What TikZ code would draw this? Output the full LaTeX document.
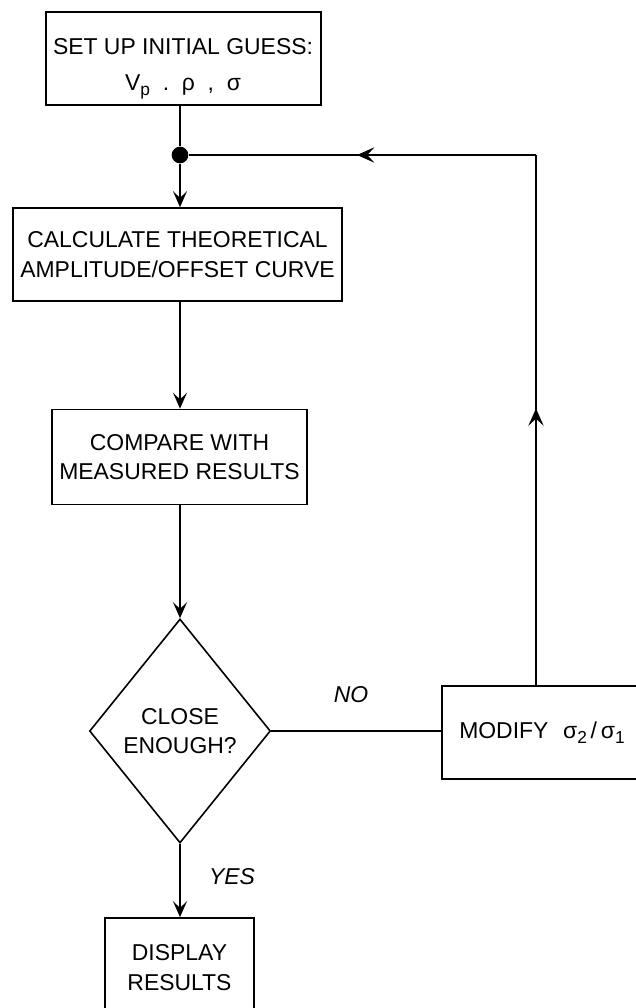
\documentclass[tikz,border=0pt]{standalone}
\usepackage{fontspec}
\setmainfont{Liberation Sans}
\usetikzlibrary{shapes.geometric,arrows.meta,decorations.markings}
\newcommand{\lowsub}[1]{\raisebox{-0.45ex}{\fontsize{13}{13}\selectfont #1}}
\begin{document}
\begin{tikzpicture}[x=0.75pt,y=-0.75pt, line width=1.2pt,
  >={Stealth[length=12pt,width=10.5pt,inset=5pt]},
  txt/.style={font=\fontsize{17.2}{22}\selectfont, inner sep=0pt, align=center},
  box/.style={draw, rectangle, inner sep=0pt, align=center, font=\fontsize{17.2}{22}\selectfont},
  lbl/.style={font=\fontsize{17.2}{22}\selectfont\itshape, inner sep=0pt},
  junction/.style={circle, fill=black, inner sep=0pt, minimum size=12.5pt},
  midarrow/.style={postaction={decorate}, decoration={markings, mark=at position #1 with {\arrow{Stealth[length=13pt,width=11.5pt,inset=5.3pt]}}}}]
\useasboundingbox (0,0) rectangle (636,1008);
\fill[white] (0,0) rectangle (636,1008);
\clip (0,0) rectangle (636,1008);

% nodes
\node[box, minimum width=206.25pt, minimum height=69.75pt] (setup) at (183.5,58.5) {};
\node[txt] (setuptxt) at (183,69) {SET UP INITIAL GUESS:\\[5pt]V\lowsub{p}\ \ .\ \ ρ\ \ ,\ \ σ};
\node[junction] (dot) at (180,155) {};
\node[box, minimum width=246.75pt, minimum height=69.75pt] (calc) at (177.5,254.5) {CALCULATE THEORETICAL\\AMPLITUDE/OFFSET CURVE};
\node[box, minimum width=191.25pt, minimum height=71.25pt] (comp) at (179.5,457) {COMPARE WITH\\MEASURED RESULTS};
\node[draw, diamond, inner sep=0pt, aspect=0.808, minimum width=135.75pt, minimum height=168pt,
      align=center, font=\fontsize{17.2}{22}\selectfont] (dec) at (180,731) {CLOSE\\ENOUGH?};
\node[box, minimum width=111.75pt, minimum height=74.25pt] (disp) at (179.5,967.5) {DISPLAY\\RESULTS};
\node[box, minimum width=150pt, minimum height=69.75pt] (modify) at (542,732.5)
  {MODIFY\hspace{11pt}σ\lowsub{2}\,/\,σ\lowsub{1}};
\coordinate (turn) at (536,155);

% labels
\node[lbl] (yes) at (232,877) {YES};
\node[lbl] (no) at (351,695) {NO};

% connectors
\draw (setup.south -| dot) -- (dot);
\draw[->] (dot) -- (calc.north -| dot);
\draw[->] (calc.south -| dot) -- (comp.north -| dot);
\draw[->] (comp.south -| dot) -- (dec.north);
\draw[->] (dec.south) -- (disp.north -| dec.south);
\draw (dec.east) -- (dec.east -| modify.west);
\draw[midarrow=0.522] (modify.north -| turn) -- (turn);
\draw[midarrow=0.516] (turn) -- (dot);
\end{tikzpicture}
\end{document}
